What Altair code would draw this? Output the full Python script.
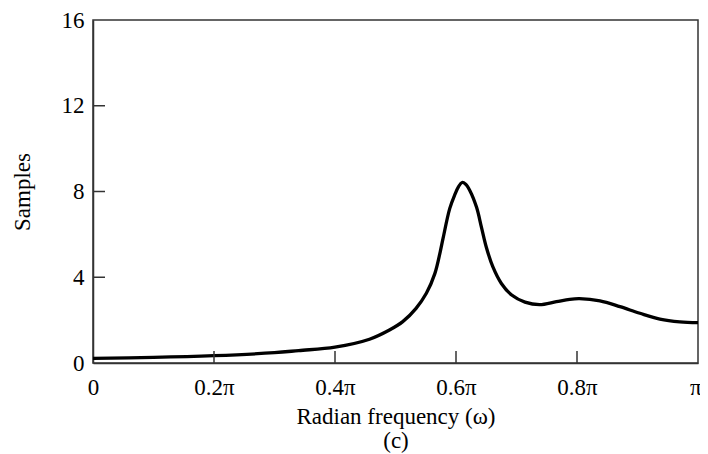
import altair as alt
import pandas as pd

# Curve (x in units of pi)
freq = [0.0, 0.1, 0.2, 0.3, 0.34, 0.4, 0.457, 0.49, 0.512, 0.534, 0.551, 0.565, 0.574,
        0.5785, 0.5896, 0.598, 0.604, 0.61, 0.616, 0.623, 0.634, 0.642, 0.65, 0.661,
        0.675, 0.692, 0.714, 0.738, 0.766, 0.788, 0.804, 0.838, 0.871, 0.904, 0.937,
        0.97, 1.0]
samples = [0.22, 0.26, 0.34, 0.48, 0.58, 0.74, 1.11, 1.54, 1.93, 2.55, 3.25, 4.17, 5.2,
           5.8, 7.2, 7.85, 8.22, 8.42, 8.34, 8.04, 7.26, 6.34, 5.41, 4.48,
           3.71, 3.17, 2.84, 2.72, 2.86, 2.97, 3.0, 2.9, 2.63, 2.32, 2.05,
           1.92, 1.88]

x_ticks = [0, 0.2, 0.4, 0.6, 0.8, 1.0]
x_tick_labels = ["0", "0.2π", "0.4π", "0.6π", "0.8π", "π"]
y_ticks = [0, 4, 8, 12, 16]
inner_x_ticks = [0.2, 0.4, 0.6, 0.8]
inner_y_ticks = [4, 8, 12]

df = pd.DataFrame({"w": freq, "s": samples})
xt = pd.DataFrame({"w": inner_x_ticks})
yt = pd.DataFrame({"s": inner_y_ticks})

label_expr = " : ".join(
    f"datum.value == {v} ? '{l}'" for v, l in zip(x_ticks, x_tick_labels)
) + " : ''"

FONT = "Liberation Serif"
FS = 23
W, H = 605, 343

xscale = alt.Scale(domain=[0, 1], nice=False)
yscale = alt.Scale(domain=[0, 16], nice=False)

line = alt.Chart(df).mark_line(color="black", strokeWidth=3.3, interpolate="catmull-rom").encode(
    x=alt.X("w:Q", scale=xscale,
            axis=alt.Axis(values=x_ticks, labelExpr=label_expr, ticks=False, grid=False,
                          labelPadding=13, labelFontSize=FS, labelFont=FONT, labelColor="black",
                          labelAlign=alt.condition("datum.value == 1", alt.value("right"), alt.value("center")),
                          labelOffset=alt.condition("datum.value == 1", alt.value(3), alt.value(0)),
                          title=["Radian frequency (ω)", "(c)"], titleFont=FONT, titleFontSize=FS,
                          titleFontWeight="normal", titleColor="black", titleLineHeight=24,
                          titlePadding=6, domainColor="#333", domainWidth=1.5,
                          labelFlush=False)),
    y=alt.Y("s:Q", scale=yscale,
            axis=alt.Axis(values=y_ticks, ticks=False, grid=False, labelPadding=9,
                          labelFontSize=FS, labelFont=FONT, labelColor="black",
                          title="Samples", titleFont=FONT, titleFontSize=FS,
                          titleFontWeight="normal", titleColor="black", titlePadding=27,
                          domainColor="#333", domainWidth=1.5, labelFlush=False)),
)

xtick_layer = alt.Chart(xt).mark_rule(color="#333", strokeWidth=1.5).encode(
    x=alt.X("w:Q", scale=xscale),
    y=alt.value(H), y2=alt.value(H - 12),
)
ytick_layer = alt.Chart(yt).mark_rule(color="#333", strokeWidth=1.5).encode(
    y=alt.Y("s:Q", scale=yscale),
    x=alt.value(0), x2=alt.value(12),
)

chart = alt.layer(line, xtick_layer, ytick_layer).properties(
    width=W, height=H,
    autosize=alt.AutoSizeParams(type="none"),
    padding={"left": 85, "top": 12, "right": 2, "bottom": 91},
).configure_view(stroke="#333", strokeWidth=1.5)

chart.save("out.html", embed_options={"renderer": "svg", "actions": False})
